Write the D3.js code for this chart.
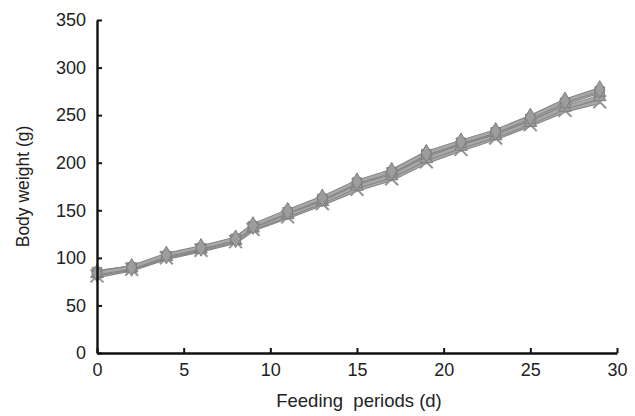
<!DOCTYPE html>
<html>
<head>
<meta charset="utf-8">
<script src="https://cdn.jsdelivr.net/npm/d3@7"></script>
<style>
  body { margin: 0; background: #fff; }
  text { font-family: "Liberation Sans", Arial, sans-serif; fill: #222; }
</style>
</head>
<body>
<svg id="plot"></svg>
<script>
'use strict';

const plotWidth = 635;
const plotHeight = 416;
const margin = {top: 20, right: 18, bottom: 63, left: 97};

const days = [0, 2, 4, 6, 8, 9, 11, 13, 15, 17, 19, 21, 23, 25, 27, 29];
const seriesDiamond = [84, 90, 103, 111, 120, 134, 149, 163, 180, 191, 210, 222, 233, 248, 265, 277];
const seriesSquare = [85, 90, 102, 110, 120, 133, 148, 162, 179, 190, 209, 221, 232, 246, 263, 275];
const seriesTriangle = [83, 89, 101, 109, 118, 131, 145, 159, 175, 186, 204, 217, 228, 242, 258, 269];
const seriesCross = [81, 88, 100, 108, 117, 130, 143, 157, 172, 183, 201, 214, 226, 240, 255, 264];
const xTicks = [0, 5, 10, 15, 20, 25, 30];
const yTicks = [0, 50, 100, 150, 200, 250, 300, 350];

const series = [
    {values: seriesCross, symbol: d3.symbolX, size: 110},
    {values: seriesTriangle, symbol: d3.symbolTriangle, size: 70},
    {values: seriesSquare, symbol: d3.symbolSquare, size: 90},
    {values: seriesDiamond, symbol: d3.symbolDiamond, size: 90}
];

const svg = d3.select('#plot')
    .attr('width', plotWidth)
    .attr('height', plotHeight);

const xScale = d3.scaleLinear()
    .domain([0, 30])
    .range([margin.left, plotWidth - margin.right]);

const yScale = d3.scaleLinear()
    .domain([0, 350])
    .range([plotHeight - margin.bottom, margin.top]);

function renderAxes() {
    const xAxis = d3.axisBottom(xScale).tickValues(xTicks).tickSizeInner(-5).tickSizeOuter(0).tickPadding(10);
    const yAxis = d3.axisLeft(yScale).tickValues(yTicks).tickSizeInner(-5).tickSizeOuter(0).tickPadding(11);

    const gx = svg.append('g')
        .attr('transform', `translate(0, ${plotHeight - margin.bottom})`)
        .call(xAxis);
    const gy = svg.append('g')
        .attr('transform', `translate(${margin.left}, 0)`)
        .call(yAxis);

    [gx, gy].forEach(g => {
        g.select('.domain').attr('stroke', '#111').attr('stroke-width', 2.4);
        g.selectAll('.tick line').attr('stroke', '#111').attr('stroke-width', 2);
        g.selectAll('.tick text').attr('font-size', 18).attr('fill', '#222')
            .attr('font-family', '"Liberation Sans", Arial, sans-serif');
    });

    svg.append('text')
        .attr('x', (margin.left + plotWidth - margin.right) / 2 + 2)
        .attr('y', 407)
        .attr('text-anchor', 'middle')
        .attr('font-size', 18.5)
        .attr('xml:space', 'preserve')
        .text('Feeding  periods (d)');

    svg.append('text')
        .attr('transform', `translate(29, ${(margin.top + plotHeight - margin.bottom) / 2}) rotate(-90)`)
        .attr('text-anchor', 'middle')
        .attr('font-size', 17.5)
        .text('Body weight (g)');
}

function renderSeries() {
    const line = d3.line()
        .x((d, i) => xScale(days[i]))
        .y(d => yScale(d));

    series.forEach(s => {
        svg.append('path')
            .datum(s.values)
            .attr('fill', 'none')
            .attr('stroke', '#858585')
            .attr('stroke-width', 4.5)
            .attr('d', line);
        svg.append('path')
            .datum(s.values)
            .attr('fill', 'none')
            .attr('stroke', '#a8a8a8')
            .attr('stroke-width', 2.5)
            .attr('d', line);
    });

    series.forEach(s => {
        svg.append('g')
            .selectAll('path')
            .data(s.values)
            .enter()
            .append('path')
            .attr('transform', (d, i) => `translate(${xScale(days[i])}, ${yScale(d)})`)
            .attr('d', d3.symbol().type(s.symbol).size(s.size))
            .attr('fill', '#9d9d9d')
            .attr('stroke', s.symbol === d3.symbolX ? '#949494' : '#7e7e7e')
            .attr('stroke-width', s.symbol === d3.symbolX ? 2 : 1);
    });
}

renderSeries();
renderAxes();
</script>
</body>
</html>
